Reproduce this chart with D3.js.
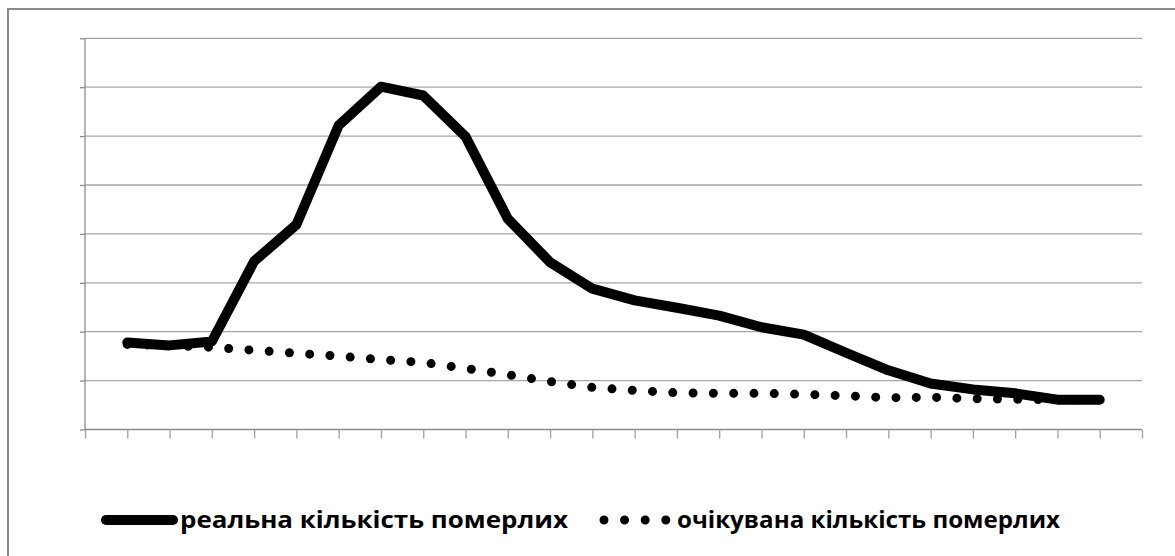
<!DOCTYPE html>
<html>
<head>
<meta charset="utf-8">
<script src="https://cdn.jsdelivr.net/npm/d3@7"></script>
<style>
  html, body { margin: 0; padding: 0; background: #fff; }
  svg { display: block; }
</style>
</head>
<body>
<svg id="chart" width="1175" height="556"></svg>
<script>
// ---- data ----
const categories = ["0","1","2","3","4","5","6","7","8","9","10","11","12","13","14","15","16","17","18","19","20","21","22","23","24","25"];
const seriesNames = ["реальна кількість померлих", "очікувана кількість померлих"];
const actualDeaths = [null, 1.78, 1.72, 1.80, 3.44, 4.19, 6.22, 7.01, 6.83, 5.99, 4.31, 3.42, 2.88, 2.64, 2.49, 2.33, 2.09, 1.94, 1.57, 1.21, 0.94, 0.82, 0.74, 0.61, 0.61, null];
const expectedDeaths = [null, 1.74, 1.72, 1.68, 1.62, 1.56, 1.50, 1.43, 1.37, 1.25, 1.12, 0.98, 0.86, 0.80, 0.75, 0.74, 0.74, 0.72, 0.69, 0.65, 0.66, 0.63, 0.62, 0.61, 0.61, null];
const yTicks = [0, 1, 2, 3, 4, 5, 6, 7, 8];

// ---- layout ----
const svg = d3.select("#chart");
const plot = { left: 85, right: 1142, top: 38.3, bottom: 429.5 };

const x = d3.scalePoint().domain(categories).range([plot.left, plot.right]).padding(0);
const y = d3.scaleLinear().domain([0, 8]).range([plot.bottom, plot.top]);

// outer border (cropped on right/bottom)
svg.append("rect")
  .attr("x", 8).attr("y", 9)
  .attr("width", 1200).attr("height", 600)
  .attr("fill", "none")
  .attr("stroke", "#8a8a8a")
  .attr("stroke-width", 2);

// gridlines
svg.append("g")
  .selectAll("line")
  .data(yTicks.filter(d => d > 0))
  .join("line")
  .attr("x1", plot.left).attr("x2", plot.right)
  .attr("y1", d => y(d)).attr("y2", d => y(d))
  .attr("stroke", "#a6a6a6")
  .attr("stroke-width", 1.3);

// y axis (no labels)
const yAxis = d3.axisLeft(y).tickValues(yTicks).tickSize(5).tickFormat("");
const gy = svg.append("g").attr("transform", `translate(${plot.left},0)`).call(yAxis);
gy.select(".domain").attr("stroke", "#8c8c8c").attr("stroke-width", 1.3).attr("d", `M0,${plot.top}V${plot.bottom}`);
gy.selectAll(".tick line").attr("stroke", "#8c8c8c").attr("stroke-width", 1.3);

// x axis (no labels)
const xAxis = d3.axisBottom(x).tickSize(9).tickFormat("");
const gx = svg.append("g").attr("transform", `translate(0,${plot.bottom})`).call(xAxis);
gx.select(".domain").attr("stroke", "#8c8c8c").attr("stroke-width", 1.3).attr("d", `M${plot.left},0H${plot.right}`);
gx.selectAll(".tick line").attr("stroke", "#a0a0a0").attr("stroke-width", 1.3);

// lines
const line = d3.line()
  .defined(d => d.v != null)
  .x(d => x(d.c))
  .y(d => y(d.v));

const actualData = categories.map((c, i) => ({ c, v: actualDeaths[i] }));
const expectedData = categories.map((c, i) => ({ c, v: expectedDeaths[i] }));

svg.append("path")
  .datum(expectedData)
  .attr("d", line)
  .attr("fill", "none")
  .attr("stroke", "#000")
  .attr("stroke-width", 9)
  .attr("stroke-linecap", "round")
  .attr("stroke-dasharray", "0 20.3");

svg.append("path")
  .datum(actualData)
  .attr("d", line)
  .attr("fill", "none")
  .attr("stroke", "#000")
  .attr("stroke-width", 10)
  .attr("stroke-linecap", "round")
  .attr("stroke-linejoin", "round");

// legend
const legY = 520;
const leg = svg.append("g");
leg.append("line")
  .attr("x1", 106).attr("x2", 173)
  .attr("y1", legY).attr("y2", legY)
  .attr("stroke", "#000").attr("stroke-width", 10)
  .attr("stroke-linecap", "round");
leg.append("text")
  .attr("x", 180).attr("y", 528)
  .attr("font-family", "'Open Sans', sans-serif")
  .attr("font-weight", "bold")
  .attr("font-size", 24)
  .attr("textLength", 388)
  .attr("lengthAdjust", "spacingAndGlyphs")
  .text(seriesNames[0]);

leg.append("line")
  .attr("x1", 604).attr("x2", 666)
  .attr("y1", legY).attr("y2", legY)
  .attr("stroke", "#000").attr("stroke-width", 9)
  .attr("stroke-linecap", "round")
  .attr("stroke-dasharray", "0 20.6");
leg.append("text")
  .attr("x", 677).attr("y", 528)
  .attr("font-family", "'Open Sans', sans-serif")
  .attr("font-weight", "bold")
  .attr("font-size", 24)
  .attr("textLength", 383)
  .attr("lengthAdjust", "spacingAndGlyphs")
  .text(seriesNames[1]);
</script>
</body>
</html>
